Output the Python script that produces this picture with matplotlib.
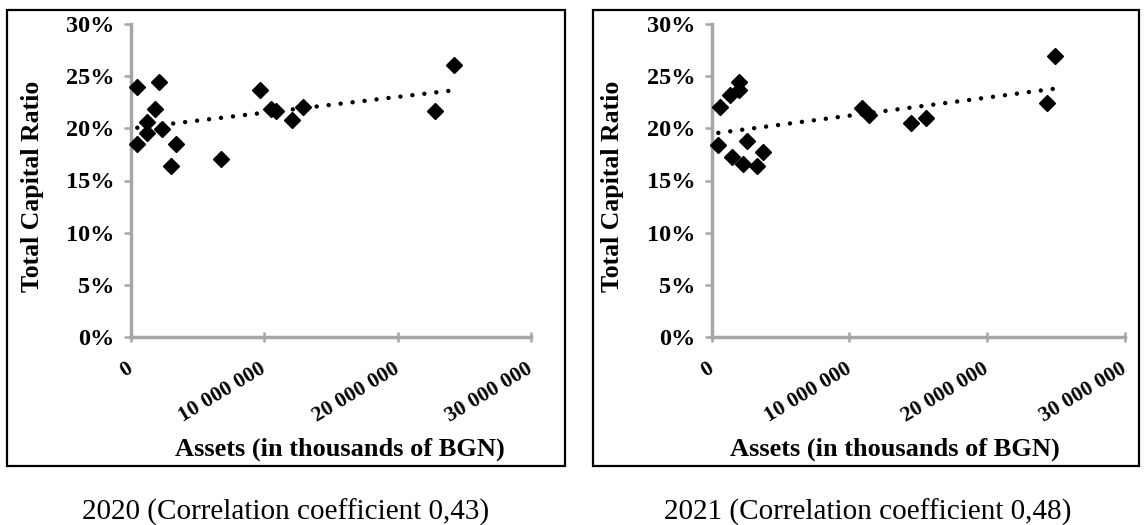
import numpy as np
import matplotlib
matplotlib.use("Agg")
import matplotlib.pyplot as plt
from matplotlib.patches import Rectangle
from matplotlib.ticker import FuncFormatter
from matplotlib.transforms import offset_copy

# ---- data (assets in thousands of BGN, total capital ratio in %) ----
assets_2020 = [470000, 2120000, 1820000, 1180000, 1180000, 2300000, 470000, 3370000,
               3000000, 6720000, 9670000, 10500000, 10900000, 12100000, 12900000,
               22800000, 24200000]
tcr_2020 = [24.0, 24.4, 21.9, 20.6, 19.6, 19.9, 18.5, 18.5,
            16.4, 17.05, 23.7, 21.9, 21.7, 20.8, 22.05,
            21.7, 26.05]

assets_2021 = [600000, 1330000, 2000000, 2000000, 480000, 1450000, 2580000, 2250000,
               3300000, 3700000, 10900000, 11400000, 14500000, 15550000,
               24350000, 24900000]
tcr_2021 = [22.05, 23.2, 24.45, 23.7, 18.4, 17.3, 18.8, 16.6,
            16.4, 17.7, 21.95, 21.3, 20.5, 21.0,
            22.45, 26.95]

x_ticks = [0, 10000000, 20000000, 30000000]
y_ticks = [0, 5, 10, 15, 20, 25, 30]
captions = ["2020 (Correlation coefficient 0,43)", "2021 (Correlation coefficient 0,48)"]
y_label = "Total Capital Ratio"
x_label = "Assets (in thousands of BGN)"

W, H = 1146, 525
fig = plt.figure(figsize=(W / 100, H / 100), dpi=100)

serif = ["Liberation Serif", "DejaVu Serif"]
axis_gray = "#A6A6A6"


def fx(px):
    return px / W


def fy(py):
    return 1 - py / H


panels = [
    dict(x=assets_2020, y=tcr_2020, ax=(131, 531), frame=(7, 565),
         ylab_x=33, xlab_x=340, cap_x=286, cap=captions[0]),
    dict(x=assets_2021, y=tcr_2021, ax=(711.7, 1125), frame=(593, 1139),
         ylab_x=613, xlab_x=895, cap_x=868, cap=captions[1]),
]

ax_top, ax_bot = 24, 337

for p in panels:
    x0, x1 = p["ax"]
    ax = fig.add_axes([fx(x0), fy(ax_bot), fx(x1 - x0), (ax_bot - ax_top) / H])
    xs = np.array(p["x"], dtype=float)
    ys = np.array(p["y"], dtype=float)
    ax.plot(xs, ys, linestyle="none", marker="D", markersize=8.5,
            color="black", zorder=3, clip_on=False)
    # linear trendline
    k, b = np.polyfit(xs, ys, 1)
    tx = np.array([xs.min(), xs.max()])
    ax.plot(tx, k * tx + b, color="black", lw=3.2,
            linestyle=(0, (0.01, 2.7)), dash_capstyle="round", zorder=2)
    ax.set_xlim(0, 30000000)
    ax.set_ylim(0, 30)
    ax.set_xticks(x_ticks)
    ax.set_yticks(y_ticks)
    ax.xaxis.set_major_formatter(FuncFormatter(lambda v, pos: f"{int(v):,}".replace(",", " ")))
    ax.yaxis.set_major_formatter(FuncFormatter(lambda v, pos: f"{int(v)}%"))
    for s in ["top", "right"]:
        ax.spines[s].set_visible(False)
    for s in ["left", "bottom"]:
        ax.spines[s].set_color(axis_gray)
        ax.spines[s].set_linewidth(2.5)
    ax.tick_params(axis="y", direction="out", length=5, width=1.8, color=axis_gray,
                   pad=7)
    ax.tick_params(axis="x", direction="inout", length=7, width=1.8, color=axis_gray,
                   pad=12)
    for lab in ax.get_yticklabels():
        lab.set_fontfamily(serif)
        lab.set_fontweight("bold")
        lab.set_fontsize(17.5)
    for lab in ax.get_xticklabels():
        lab.set_fontfamily(serif)
        lab.set_fontweight("bold")
        lab.set_fontsize(15.5)
        lab.set_rotation(31)
        lab.set_ha("right")
        lab.set_va("top")
        lab.set_rotation_mode("anchor")
        lab.set_transform(offset_copy(lab.get_transform(), fig=fig, x=-5, y=0,
                                      units="dots"))
    ax.patch.set_alpha(0)

    f0, f1 = p["frame"]
    fig.patches.append(Rectangle((fx(f0), fy(466)), fx(f1 - f0), (466 - 10) / H,
                                 transform=fig.transFigure, fill=False,
                                 edgecolor="black", lw=1.6))
    fig.text(fx(p["ylab_x"]), fy(186), y_label, rotation=90, ha="center", va="center",
             family=serif, fontweight="bold", fontsize=18.5)
    fig.text(fx(p["xlab_x"]), fy(449), x_label, ha="center", va="center",
             family=serif, fontweight="bold", fontsize=19)
    fig.text(fx(p["cap_x"]), fy(520), p["cap"], ha="center", va="baseline",
             family=serif, fontsize=21)

fig.savefig("out.png", dpi=100)
